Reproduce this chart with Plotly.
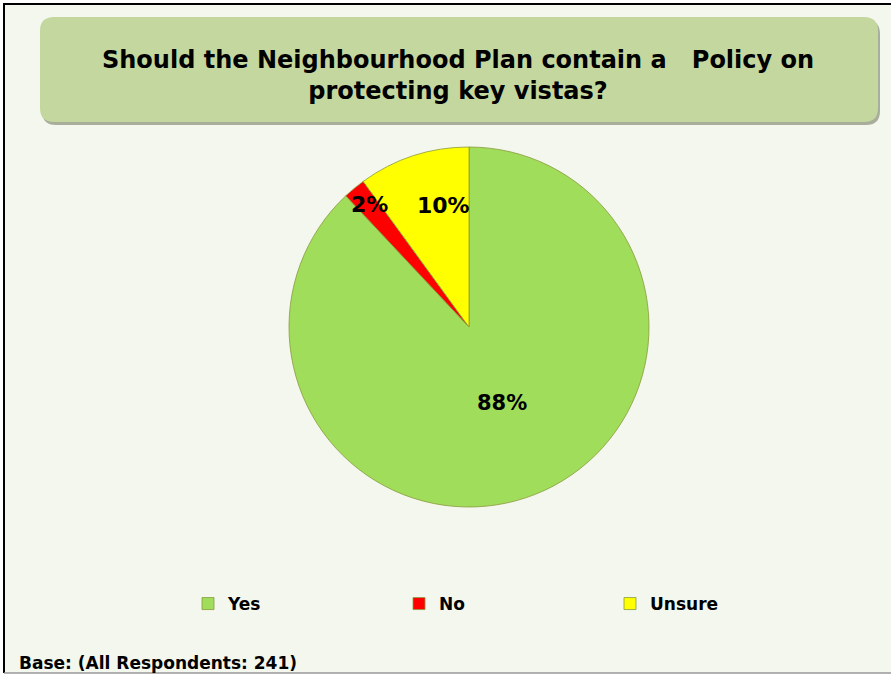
import math
import plotly.graph_objects as go

# data
labels = ["Yes", "No", "Unsure"]
values = [88, 2, 10]
colors = ["#9fdd5b", "#ff0000", "#ffff00"]
title_text = "Should&#160;the Neighbourhood Plan contain a &#160; Policy on<br>protecting key vistas?"
base_text = "Base: (All Respondents: 241)"

W, H = 891, 675
FONT = "DejaVu Sans, Verdana, sans-serif"

# pie placement in pixels
cx, cy, r = 469, 327, 180


def px(x):
    return x / W


def py(y):
    return 1 - y / H


fig = go.Figure()

fig.add_trace(go.Pie(
    labels=[f"<b>{l}</b>" for l in labels],
    values=values,
    sort=False,
    direction="clockwise",
    rotation=0,
    textinfo="none",
    hoverinfo="label+percent",
    marker=dict(colors=colors, line=dict(color="#8a9a3a", width=0.8)),
    domain=dict(x=[px(cx - r), px(cx + r)], y=[py(cy + r), py(cy - r)]),
))

# percentage labels placed along each slice's mid-angle, with small nudges
label_radius = [0.46, 0.87, 0.69]
label_size = [21, 22, 22]
label_shift = [(3, 1), (0, 2), (13, 3)]
total = sum(values)
cum = 0
annotations = []
for v, rf, fs, (sx, sy) in zip(values, label_radius, label_size, label_shift):
    mid = (cum + v / 2) / total * 2 * math.pi
    cum += v
    x = cx + r * rf * math.sin(mid)
    y = cy - r * rf * math.cos(mid)
    annotations.append(dict(
        x=px(x), y=py(y), xref="paper", yref="paper",
        xanchor="center", yanchor="middle", xshift=sx, yshift=sy,
        text=f"<b>{round(v / total * 100)}%</b>", showarrow=False,
        font=dict(family=FONT, size=fs, color="black"),
    ))

annotations.append(dict(
    x=px(458), y=py(76), xref="paper", yref="paper",
    xanchor="center", yanchor="middle",
    text=f"<b>{title_text}</b>", showarrow=False,
    font=dict(family=FONT, size=24, color="black"),
))
annotations.append(dict(
    x=px(17), y=py(663), xref="paper", yref="paper",
    xanchor="left", yanchor="middle",
    text=f"<b>{base_text}</b>", showarrow=False,
    font=dict(family=FONT, size=17, color="black"),
))


def rounded(x0, y0, x1, y1, rad):
    # rounded rectangle, pixel space -> paper coords
    pts = [
        ("M", [(x0 + rad, y0)]),
        ("L", [(x1 - rad, y0)]),
        ("Q", [(x1, y0), (x1, y0 + rad)]),
        ("L", [(x1, y1 - rad)]),
        ("Q", [(x1, y1), (x1 - rad, y1)]),
        ("L", [(x0 + rad, y1)]),
        ("Q", [(x0, y1), (x0, y1 - rad)]),
        ("L", [(x0, y0 + rad)]),
        ("Q", [(x0, y0), (x0 + rad, y0)]),
    ]
    out = ""
    for cmd, ps in pts:
        out += cmd + " ".join(f"{px(a):.5f},{py(b):.5f}" for a, b in ps) + " "
    return out + "Z"


shapes = [
    # chart area background and border
    dict(type="rect", xref="paper", yref="paper", x0=px(4), x1=1.01, y0=py(673), y1=py(4),
         fillcolor="#f4f7ee", line=dict(width=0), layer="below"),
    dict(type="line", xref="paper", yref="paper", x0=px(3), x1=1.01, y0=py(4), y1=py(4),
         line=dict(color="black", width=2)),
    dict(type="line", xref="paper", yref="paper", x0=px(4), x1=px(4), y0=py(673), y1=py(3),
         line=dict(color="black", width=2)),
    dict(type="line", xref="paper", yref="paper", x0=px(4), x1=1.01, y0=py(673), y1=py(673),
         line=dict(color="#999999", width=1.5)),
    # title box shadow and box
    dict(type="path", xref="paper", yref="paper", path=rounded(42, 20, 880, 125, 14),
         fillcolor="#a9ad9c", line=dict(width=0), layer="below"),
    dict(type="path", xref="paper", yref="paper", path=rounded(40, 17, 878, 122, 14),
         fillcolor="#c4d79e", line=dict(width=0), layer="below"),
]

fig.update_layout(
    width=W, height=H,
    margin=dict(l=0, r=0, t=0, b=0),
    paper_bgcolor="white",
    plot_bgcolor="white",
    font=dict(family=FONT, color="black"),
    showlegend=True,
    legend=dict(
        orientation="h", x=px(188), y=py(604), xanchor="left", yanchor="middle",
        font=dict(family=FONT, size=17, color="black"),
        entrywidth=166, entrywidthmode="pixels",
        bgcolor="rgba(0,0,0,0)",
    ),
    annotations=annotations,
    shapes=shapes,
)

fig.write_html("out.html", config={"displayModeBar": False},
               post_script="document.body.style.margin='0';")
